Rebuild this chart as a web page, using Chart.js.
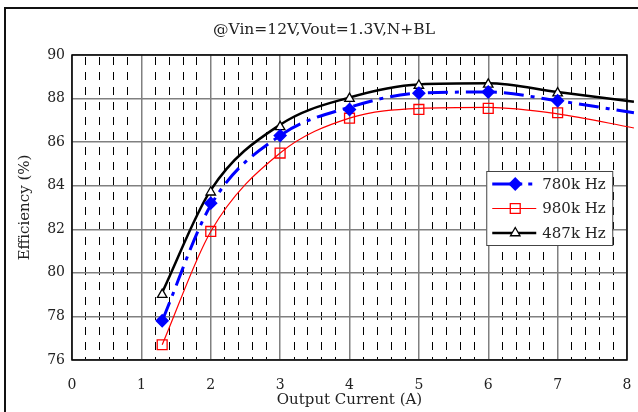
<!DOCTYPE html>
<html>
<head>
<meta charset="utf-8">
<script src="https://cdn.jsdelivr.net/npm/chart.js@4.4.0/dist/chart.umd.min.js"></script>
<style>
body { margin: 0; background: #fff; }
#frame { position: absolute; left: 4px; top: 7px; width: 700px; height: 500px; border: 2px solid #111; }
#wrap { position: absolute; left: 0; top: 0; width: 638px; height: 412px; }
</style>
</head>
<body>
<div id="frame"></div>
<div id="wrap"><canvas id="c" width="638" height="412"></canvas></div>
<script>
const FONT = "'DejaVu Serif', serif";

// measured points
const current = [1.3, 2, 3, 4, 5, 6, 7];
const eff780 = [77.8, 83.2, 86.3, 87.5, 88.25, 88.3, 87.9];
const eff980 = [76.7, 81.9, 85.5, 87.1, 87.5, 87.55, 87.35];
const eff487 = [79.0, 83.7, 86.7, 88.0, 88.6, 88.65, 88.25];

// trend curves (run past the right edge)
const curveX = [1.3, 2, 3, 4, 5, 6, 7, 8.1];
const curve780 = [77.8, 83.1, 86.3, 87.6, 88.25, 88.3, 87.9, 87.35];
const curve980 = [76.7, 81.9, 85.5, 87.1, 87.55, 87.6, 87.3, 86.65];
const curve487 = [79.1, 83.8, 86.8, 88.05, 88.65, 88.7, 88.3, 87.85];

const xTicks = [0, 1, 2, 3, 4, 5, 6, 7, 8];
const yTicks = [76, 78, 80, 82, 84, 86, 88, 90];
const titleText = "@Vin=12V,Vout=1.3V,N+BL";
const xTitle = "Output Current (A)";
const yTitle = "Efficiency (%)";

const series = [
    { label: "780k Hz", color: "#0000ff", width: 3, dash: [20, 7, 4, 7], style: "rectRot", radius: 6, fill: "#0000ff", values: eff780, curve: curve780 },
    { label: "980k Hz", color: "#ff0000", width: 1.2, dash: [], style: "rect", radius: 7, fill: "rgba(0,0,0,0)", values: eff980, curve: curve980 },
    { label: "487k Hz", color: "#000000", width: 2.5, dash: [], style: "triangle", radius: 5.5, fill: "#ffffff", values: eff487, curve: curve487 }
];

function pts(xs, ys) {
    return xs.map((x, i) => ({ x: x, y: ys[i] }));
}

const datasets = [];
series.forEach(s => {
    datasets.push({
        data: pts(curveX, s.curve),
        borderColor: s.color,
        borderWidth: s.width,
        borderDash: s.dash,
        pointRadius: 0,
        showLine: true,
        cubicInterpolationMode: "monotone",
        clip: { left: 0, top: 5, right: 12, bottom: 5 },
        order: 2
    });
});
series.forEach(s => {
    datasets.push({
        data: pts(current, s.values),
        showLine: false,
        pointStyle: s.style,
        pointRadius: s.radius,
        pointBackgroundColor: s.fill,
        pointBorderColor: s.color,
        pointBorderWidth: 1.3,
        clip: false,
        order: 1
    });
});

function isMajor(v) {
    return Math.abs(v - Math.round(v)) < 1e-6;
}

const frame = {
    id: "frame",
    beforeDatasetsDraw(chart) {
        const a = chart.chartArea;
        const ctx = chart.ctx;
        ctx.save();
        ctx.strokeStyle = "#000";
        ctx.lineWidth = 1.5;
        ctx.strokeRect(a.left, a.top, a.right - a.left, a.bottom - a.top);
        ctx.restore();
    },
    afterDraw(chart) {
        const ctx = chart.ctx;
        const xs = chart.scales.x;
        ctx.save();
        ctx.fillStyle = "#222";
        ctx.font = "15.5px " + FONT;
        ctx.textAlign = "center";
        ctx.textBaseline = "middle";
        ctx.fillText(titleText, 324, 30);

        // legend
        const L = xs.getPixelForValue(6) - 2;
        const T = 171;
        ctx.fillStyle = "#fff";
        ctx.fillRect(L, T, 126, 74);
        ctx.strokeStyle = "#444";
        ctx.lineWidth = 1;
        ctx.strokeRect(L + 0.5, T + 0.5, 126, 74);
        series.forEach((s, i) => {
            const y = T + 13 + i * 24.5;
            ctx.save();
            ctx.strokeStyle = s.color;
            ctx.lineWidth = s.width;
            ctx.setLineDash(s.dash.length ? [20, 6, 4, 6] : []);
            ctx.beginPath();
            ctx.moveTo(L + 6, y);
            ctx.lineTo(L + (s.dash.length ? 46 : 50), y);
            ctx.stroke();
            ctx.setLineDash([]);
            ctx.fillStyle = s.fill;
            ctx.lineWidth = 1.3;
            Chart.helpers.drawPoint(ctx, { pointStyle: s.style, radius: s.radius, rotation: 0, borderWidth: 1.3 }, L + 29, y);
            ctx.restore();
            ctx.fillStyle = "#222";
            ctx.font = "15px " + FONT;
            ctx.textAlign = "left";
            ctx.fillText(s.label, L + 56, y + 1);
        });
        ctx.restore();
    }
};

new Chart(document.getElementById("c"), {
    type: "scatter",
    data: { datasets: datasets },
    options: {
        responsive: false,
        animation: false,
        layout: { padding: { left: 0, right: 11, top: 55, bottom: 0 } },
        plugins: { legend: { display: false }, tooltip: { enabled: false } },
        scales: {
            x: {
                type: "linear",
                min: xTicks[0],
                max: xTicks[xTicks.length - 1],
                afterFit(scale) { scale.height = 52; },
                ticks: {
                    stepSize: 0.2,
                    autoSkip: false,
                    maxRotation: 0,
                    padding: 3,
                    color: "#222",
                    font: { family: FONT, size: 14 },
                    callback: v => isMajor(v) ? String(Math.round(v)) : ""
                },
                grid: {
                    drawTicks: true,
                    tickLength: 14,
                    tickColor: "rgba(0,0,0,0)",
                    color: c => (c.tick && !isMajor(c.tick.value)) ? "#000" : "#808080",
                    lineWidth: c => (c.tick && !isMajor(c.tick.value)) ? 1 : 1.5
                },
                border: {
                    display: false,
                    dash: c => (c.tick && !isMajor(c.tick.value)) ? [8, 7] : [],
                    dashOffset: -2
                },
                title: {
                    display: true,
                    text: xTitle,
                    color: "#222",
                    font: { family: FONT, size: 15 },
                    padding: { top: 0, bottom: 3 }
                }
            },
            y: {
                min: yTicks[0],
                max: yTicks[yTicks.length - 1],
                afterFit(scale) { scale.width = 72; },
                ticks: {
                    stepSize: 2,
                    padding: 7,
                    color: "#222",
                    font: { family: FONT, size: 14 }
                },
                grid: { drawTicks: false, color: "#808080", lineWidth: 1.5 },
                border: { display: false },
                title: {
                    display: true,
                    text: yTitle,
                    color: "#222",
                    font: { family: FONT, size: 15 },
                    padding: { top: 16, bottom: 0 }
                }
            }
        }
    },
    plugins: [frame]
});
</script>
</body>
</html>
